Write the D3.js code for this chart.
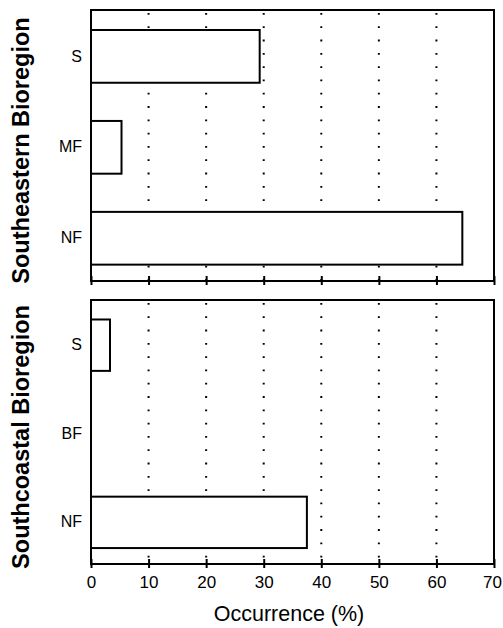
<!DOCTYPE html>
<html><head><meta charset="utf-8">
<script src="https://cdn.jsdelivr.net/npm/d3@7"></script>
<style>body{margin:0;background:#fff}svg{display:block}text{font-family:"Liberation Sans",Arial,sans-serif;fill:#000}</style>
</head><body>
<script>
const xTicks = [0, 10, 20, 30, 40, 50, 60, 70];
const topCategories = ["S", "MF", "NF"];
const topValues = [29.3, 5.3, 64.5];
const bottomCategories = ["S", "BF", "NF"];
const bottomValues = [3.3, 0, 37.5];
const regionLabels = ["Southeastern Bioregion", "Southcoastal Bioregion"];
const xTitle = "Occurrence (%)";

const W = 503, H = 628;
const svg = d3.select("body").append("svg").attr("width", W).attr("height", H);
const x = d3.scaleLinear().domain([0, 70]).range([91, 494]);

const panels = [
  {cats: topCategories, vals: topValues, y0: 10, y1: 281, label: regionLabels[0], showLabels: false},
  {cats: bottomCategories, vals: bottomValues, y0: 300, y1: 564, label: regionLabels[1], showLabels: true}
];

panels.forEach(p => {
  const y = d3.scaleBand().domain(p.cats).range([p.y0, p.y1]).paddingInner(0.42).paddingOuter(0.2).align(0.55);
  const g = svg.append("g");
  g.selectAll("line.grid").data(xTicks.filter(t => t > 0 && t < 70)).join("line")
    .attr("x1", d => x(d)).attr("x2", d => x(d))
    .attr("y1", p.y0 + 3).attr("y2", p.y1)
    .attr("stroke", "#000").attr("stroke-width", 2)
    .attr("stroke-dasharray", "1.8,11.5");
  g.selectAll("rect.bar").data(p.cats.map((c, i) => ({c, v: p.vals[i]})).filter(d => d.v > 0)).join("rect")
    .attr("x", x(0)).attr("y", d => y(d.c))
    .attr("width", d => x(d.v) - x(0)).attr("height", y.bandwidth())
    .attr("fill", "#fff").attr("stroke", "#000").attr("stroke-width", 2);
  g.append("rect").attr("x", x(0)).attr("y", p.y0).attr("width", x(70) - x(0)).attr("height", p.y1 - p.y0)
    .attr("fill", "none").attr("stroke", "#000").attr("stroke-width", 2);
  const ax = g.append("g").attr("transform", `translate(0,${p.y1})`)
    .call(d3.axisBottom(x).tickValues(xTicks).tickSize(4).tickPadding(8).tickFormat(p.showLabels ? d3.format("d") : () => ""));
  ax.select(".domain").remove();
  ax.selectAll(".tick line").attr("y1", -5).attr("y2", 4).attr("stroke", "#000").attr("stroke-width", 2);
  ax.selectAll(".tick text").attr("font-size", 17).attr("font-family", "Liberation Sans, Arial, sans-serif").attr("fill", "#000")
    .attr("dx", d => d === 70 ? -2 : 0);
  const ay = g.append("g").attr("transform", `translate(${x(0)},0)`)
    .call(d3.axisLeft(y).tickSize(0).tickPadding(9));
  ay.select(".domain").remove();
  ay.selectAll(".tick text").attr("font-size", 16).attr("font-family", "Liberation Sans, Arial, sans-serif").attr("fill", "#000");
  svg.append("text").attr("transform", `translate(29,${(p.y0 + p.y1) / 2 + 5}) rotate(-90)`)
    .attr("text-anchor", "middle").attr("font-size", 23.5).attr("font-weight", "bold").text(p.label);
});

svg.append("text").attr("x", 289).attr("y", 621).attr("text-anchor", "middle")
  .attr("font-size", 21.5).text(xTitle);
</script>
</body></html>
